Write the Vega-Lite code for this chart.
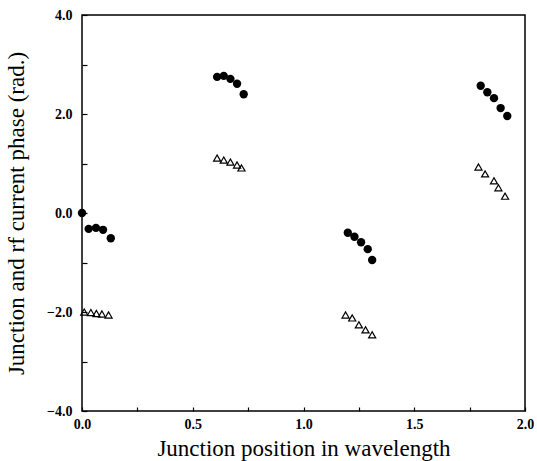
{
  "$schema": "https://vega.github.io/schema/vega-lite/v6.json",
  "width": 443,
  "height": 396,
  "autosize": {"type": "none"},
  "padding": {"left": 82, "top": 15, "right": 12, "bottom": 50},
  "background": "white",
  "config": {
    "view": {"stroke": "black", "strokeWidth": 1.5},
    "axis": {
      "domain": false,
      "grid": false,
      "tickColor": "black",
      "tickWidth": 1.2,
      "labelFont": "Liberation Serif",
      "labelFontWeight": "bold",
      "labelFontSize": 14,
      "labelColor": "black",
      "labelFlush": false,
      "titleFont": "Liberation Serif",
      "titleFontWeight": "normal",
      "titleFontSize": 23,
      "titleColor": "black"
    }
  },
  "datasets": {
    "junction": [
      {"pos": 0.0, "phase": 0.0},
      {"pos": 0.03, "phase": -0.32},
      {"pos": 0.063, "phase": -0.30},
      {"pos": 0.095, "phase": -0.34},
      {"pos": 0.13, "phase": -0.51},
      {"pos": 0.61, "phase": 2.75},
      {"pos": 0.64, "phase": 2.77},
      {"pos": 0.67, "phase": 2.71},
      {"pos": 0.70, "phase": 2.61},
      {"pos": 0.73, "phase": 2.40},
      {"pos": 1.20, "phase": -0.40},
      {"pos": 1.23, "phase": -0.48},
      {"pos": 1.26, "phase": -0.59},
      {"pos": 1.29, "phase": -0.73},
      {"pos": 1.31, "phase": -0.95},
      {"pos": 1.80, "phase": 2.57},
      {"pos": 1.83, "phase": 2.44},
      {"pos": 1.86, "phase": 2.32},
      {"pos": 1.89, "phase": 2.12},
      {"pos": 1.92, "phase": 1.96}
    ],
    "rf": [
      {"pos": 0.01, "phase": -2.00},
      {"pos": 0.04, "phase": -2.01},
      {"pos": 0.065, "phase": -2.03},
      {"pos": 0.09, "phase": -2.04},
      {"pos": 0.12, "phase": -2.06},
      {"pos": 0.61, "phase": 1.11},
      {"pos": 0.64, "phase": 1.07},
      {"pos": 0.67, "phase": 1.03},
      {"pos": 0.70, "phase": 0.97},
      {"pos": 0.72, "phase": 0.91},
      {"pos": 1.19, "phase": -2.06},
      {"pos": 1.22, "phase": -2.12},
      {"pos": 1.25, "phase": -2.26},
      {"pos": 1.28, "phase": -2.36},
      {"pos": 1.31, "phase": -2.46},
      {"pos": 1.79, "phase": 0.93},
      {"pos": 1.82, "phase": 0.79},
      {"pos": 1.86, "phase": 0.65},
      {"pos": 1.88, "phase": 0.51},
      {"pos": 1.91, "phase": 0.34}
    ]
  },
  "layer": [
    {
      "data": {"name": "junction"},
      "mark": {"type": "point", "shape": "circle", "filled": true, "color": "black", "size": 70, "opacity": 1},
      "encoding": {
        "x": {
          "field": "pos", "type": "quantitative",
          "scale": {"domain": [0, 2], "nice": false, "zero": false},
          "axis": {
            "title": "Junction position in wavelength",
            "values": [0, 0.25, 0.5, 0.75, 1, 1.25, 1.5, 1.75, 2],
            "labelExpr": "datum.value % 0.5 == 0 ? format(datum.value, '.1f') : ''",
            "tickSize": -4,
            "labelPadding": 10,
            "titlePadding": 6
          }
        },
        "y": {
          "field": "phase", "type": "quantitative",
          "scale": {"domain": [-4, 4], "nice": false, "zero": false},
          "axis": {
            "title": "Junction and rf current phase (rad.)",
            "values": [-4, -3, -2, -1, 0, 1, 2, 3, 4],
            "labelExpr": "datum.value % 2 == 0 ? format(datum.value, '.1f') : ''",
            "tickSize": -5,
            "labelPadding": 15,
            "titlePadding": 18
          }
        }
      }
    },
    {
      "data": {"name": "rf"},
      "mark": {"type": "point", "shape": "triangle-up", "filled": false, "color": "black", "size": 50, "strokeWidth": 1.2, "opacity": 1},
      "encoding": {
        "x": {"field": "pos", "type": "quantitative"},
        "y": {"field": "phase", "type": "quantitative"}
      }
    }
  ]
}
